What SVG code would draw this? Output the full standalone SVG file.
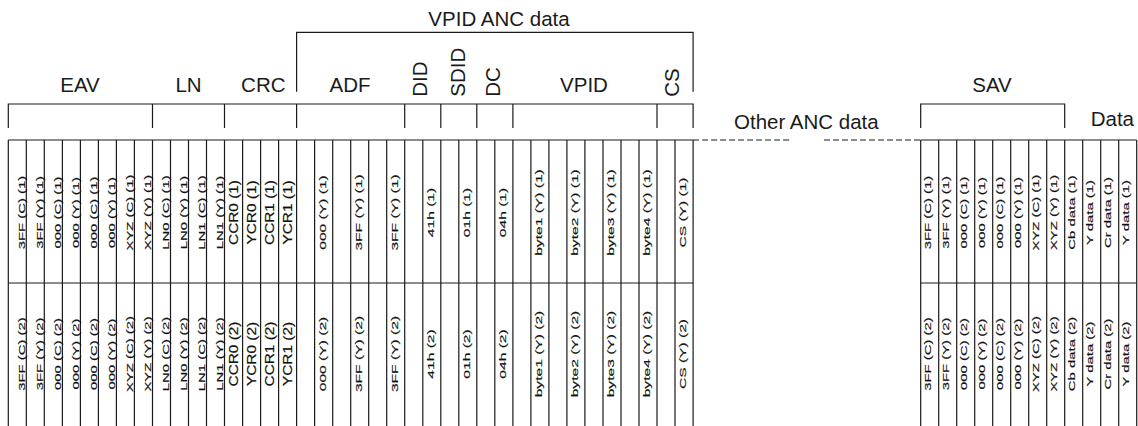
<svg xmlns="http://www.w3.org/2000/svg" width="1138" height="426" viewBox="0 0 1138 426">
<style>
.ln{stroke:#1a1a1a;stroke-width:1.2;fill:none}
.dash{stroke:#1a1a1a;stroke-width:1.2;fill:none;stroke-dasharray:6 3}
.h{font-family:"Liberation Sans",Arial,sans-serif;font-size:20.5px;fill:#1a1a1a}
.e,.a,.k{font-family:"Liberation Sans",Arial,sans-serif;fill:#111;stroke:#111;stroke-width:0.25;text-anchor:middle}
.e{font-size:14.9px}
.a{font-size:15.6px}
.k{font-size:15.4px}
</style>
<rect width="1138" height="426" fill="#ffffff"/>
<g id="connectors">
<path class="ln" d="M296.6 91.7V32.3H693.1V91.7"/>
<path class="ln" d="M8.3 128V104H693.1V128M152.5 104V128M224.5 104V128M296.6 104V128M404.7 104V128M440.8 104V128M476.8 104V128M512.9 104V128M657 104V128"/>
<path class="ln" d="M920.7 128V104H1064.7V128"/>
<path class="ln" d="M8.3 140H693.1M8.3 283H693.1M920.7 140H1136.7M920.7 283H1136.7"/>
<path class="dash" d="M693.1 140H790M824 140H920.7"/>
<path class="ln" d="M8.3 140V426M26.3 140V426M44.3 140V426M62.4 140V426M80.4 140V426M98.4 140V426M116.4 140V426M134.4 140V426M152.5 140V426M170.5 140V426M188.5 140V426M206.5 140V426M224.5 140V426M242.6 140V426M260.6 140V426M278.6 140V426M296.6 140V426M314.6 140V426M332.7 140V426M350.7 140V426M368.7 140V426M386.7 140V426M404.7 140V426M422.8 140V426M440.8 140V426M458.8 140V426M476.8 140V426M494.8 140V426M512.9 140V426M530.9 140V426M548.9 140V426M566.9 140V426M584.9 140V426M603 140V426M621 140V426M639 140V426M657 140V426M675 140V426M693.1 140V426"/>
<path class="ln" d="M920.7 140V426M938.7 140V426M956.7 140V426M974.7 140V426M992.7 140V426M1010.7 140V426M1028.7 140V426M1046.7 140V426M1064.7 140V426M1082.7 140V426M1100.7 140V426M1118.7 140V426M1136.7 140V426"/>
</g>
<g id="headings">
<text class="h" x="499" y="26" text-anchor="middle">VPID ANC data</text>
<text class="h" x="80" y="92.3" text-anchor="middle">EAV</text>
<text class="h" x="188.5" y="92.3" text-anchor="middle">LN</text>
<text class="h" x="263.3" y="92.3" text-anchor="middle">CRC</text>
<text class="h" x="350" y="92.3" text-anchor="middle">ADF</text>
<text class="h" transform="translate(426.5 96.7) rotate(-90)">DID</text>
<text class="h" transform="translate(465 96.7) rotate(-90)">SDID</text>
<text class="h" transform="translate(500 96.7) rotate(-90)">DC</text>
<text class="h" x="584" y="92.3" text-anchor="middle">VPID</text>
<text class="h" transform="translate(679.3 96.7) rotate(-90)">CS</text>
<text class="h" x="992" y="92.3" text-anchor="middle">SAV</text>
<text class="h" x="734" y="128.5">Other ANC data</text>
<text class="h" x="1090.7" y="125.5">Data</text>
</g>
<g id="eav-cells">
<text class="e" transform="translate(24.6 212.5) rotate(-90) scale(1 0.645)">3FF (C) (1)</text>
<text class="e" transform="translate(42.6 212.5) rotate(-90) scale(1 0.645)">3FF (Y) (1)</text>
<text class="e" transform="translate(60.6 212.5) rotate(-90) scale(1 0.645)">000 (C) (1)</text>
<text class="e" transform="translate(78.7 212.5) rotate(-90) scale(1 0.645)">000 (Y) (1)</text>
<text class="e" transform="translate(96.7 212.5) rotate(-90) scale(1 0.645)">000 (C) (1)</text>
<text class="e" transform="translate(114.7 212.5) rotate(-90) scale(1 0.645)">000 (Y) (1)</text>
<text class="e" transform="translate(132.7 212.5) rotate(-90) scale(1 0.645)">XYZ (C) (1)</text>
<text class="e" transform="translate(150.7 212.5) rotate(-90) scale(1 0.645)">XYZ (Y) (1)</text>
<text class="e" transform="translate(24.6 354) rotate(-90) scale(1 0.645)">3FF (C) (2)</text>
<text class="e" transform="translate(42.6 354) rotate(-90) scale(1 0.645)">3FF (Y) (2)</text>
<text class="e" transform="translate(60.6 354) rotate(-90) scale(1 0.645)">000 (C) (2)</text>
<text class="e" transform="translate(78.7 354) rotate(-90) scale(1 0.645)">000 (Y) (2)</text>
<text class="e" transform="translate(96.7 354) rotate(-90) scale(1 0.645)">000 (C) (2)</text>
<text class="e" transform="translate(114.7 354) rotate(-90) scale(1 0.645)">000 (Y) (2)</text>
<text class="e" transform="translate(132.7 354) rotate(-90) scale(1 0.645)">XYZ (C) (2)</text>
<text class="e" transform="translate(150.7 354) rotate(-90) scale(1 0.645)">XYZ (Y) (2)</text>
</g>
<g id="ln-cells">
<text class="e" transform="translate(168.8 212.5) rotate(-90) scale(1 0.645)">LN0 (C) (1)</text>
<text class="e" transform="translate(186.8 212.5) rotate(-90) scale(1 0.645)">LN0 (Y) (1)</text>
<text class="e" transform="translate(204.8 212.5) rotate(-90) scale(1 0.645)">LN1 (C) (1)</text>
<text class="e" transform="translate(222.8 212.5) rotate(-90) scale(1 0.645)">LN1 (Y) (1)</text>
<text class="e" transform="translate(168.8 354) rotate(-90) scale(1 0.645)">LN0 (C) (2)</text>
<text class="e" transform="translate(186.8 354) rotate(-90) scale(1 0.645)">LN0 (Y) (2)</text>
<text class="e" transform="translate(204.8 354) rotate(-90) scale(1 0.645)">LN1 (C) (2)</text>
<text class="e" transform="translate(222.8 354) rotate(-90) scale(1 0.645)">LN1 (Y) (2)</text>
</g>
<g id="crc-cells">
<text class="k" transform="translate(238 212.5) rotate(-90) scale(1 0.78)">CCR0 (1)</text>
<text class="k" transform="translate(256.1 212.5) rotate(-90) scale(1 0.78)">YCR0 (1)</text>
<text class="k" transform="translate(274.1 212.5) rotate(-90) scale(1 0.78)">CCR1 (1)</text>
<text class="k" transform="translate(292.1 212.5) rotate(-90) scale(1 0.78)">YCR1 (1)</text>
<text class="k" transform="translate(238 354) rotate(-90) scale(1 0.78)">CCR0 (2)</text>
<text class="k" transform="translate(256.1 354) rotate(-90) scale(1 0.78)">YCR0 (2)</text>
<text class="k" transform="translate(274.1 354) rotate(-90) scale(1 0.78)">CCR1 (2)</text>
<text class="k" transform="translate(292.1 354) rotate(-90) scale(1 0.78)">YCR1 (2)</text>
</g>
<g id="vpid-anc-cells">
<text class="a" transform="translate(326 212.5) rotate(-90) scale(1 0.64)">000 (Y) (1)</text>
<text class="a" transform="translate(362.1 212.5) rotate(-90) scale(1 0.64)">3FF (Y) (1)</text>
<text class="a" transform="translate(398.1 212.5) rotate(-90) scale(1 0.64)">3FF (Y) (1)</text>
<text class="a" transform="translate(434.2 212.5) rotate(-90) scale(1 0.64)">41h (1)</text>
<text class="a" transform="translate(470.2 212.5) rotate(-90) scale(1 0.64)">01h (1)</text>
<text class="a" transform="translate(506.2 212.5) rotate(-90) scale(1 0.64)">04h (1)</text>
<text class="a" transform="translate(542.3 212.5) rotate(-90) scale(1 0.64)">byte1 (Y) (1)</text>
<text class="a" transform="translate(578.3 212.5) rotate(-90) scale(1 0.64)">byte2 (Y) (1)</text>
<text class="a" transform="translate(614.4 212.5) rotate(-90) scale(1 0.64)">byte3 (Y) (1)</text>
<text class="a" transform="translate(650.4 212.5) rotate(-90) scale(1 0.64)">byte4 (Y) (1)</text>
<text class="a" transform="translate(686.4 212.5) rotate(-90) scale(1 0.64)">CS (Y) (1)</text>
<text class="a" transform="translate(326 354) rotate(-90) scale(1 0.64)">000 (Y) (2)</text>
<text class="a" transform="translate(362.1 354) rotate(-90) scale(1 0.64)">3FF (Y) (2)</text>
<text class="a" transform="translate(398.1 354) rotate(-90) scale(1 0.64)">3FF (Y) (2)</text>
<text class="a" transform="translate(434.2 354) rotate(-90) scale(1 0.64)">41h (2)</text>
<text class="a" transform="translate(470.2 354) rotate(-90) scale(1 0.64)">01h (2)</text>
<text class="a" transform="translate(506.2 354) rotate(-90) scale(1 0.64)">04h (2)</text>
<text class="a" transform="translate(542.3 354) rotate(-90) scale(1 0.64)">byte1 (Y) (2)</text>
<text class="a" transform="translate(578.3 354) rotate(-90) scale(1 0.64)">byte2 (Y) (2)</text>
<text class="a" transform="translate(614.4 354) rotate(-90) scale(1 0.64)">byte3 (Y) (2)</text>
<text class="a" transform="translate(650.4 354) rotate(-90) scale(1 0.64)">byte4 (Y) (2)</text>
<text class="a" transform="translate(686.4 354) rotate(-90) scale(1 0.64)">CS (Y) (2)</text>
</g>
<g id="sav-cells">
<text class="e" transform="translate(930.5 212.5) rotate(-90) scale(1 0.645)">3FF (C) (1)</text>
<text class="e" transform="translate(948.5 212.5) rotate(-90) scale(1 0.645)">3FF (Y) (1)</text>
<text class="e" transform="translate(966.5 212.5) rotate(-90) scale(1 0.645)">000 (C) (1)</text>
<text class="e" transform="translate(984.5 212.5) rotate(-90) scale(1 0.645)">000 (Y) (1)</text>
<text class="e" transform="translate(1002.5 212.5) rotate(-90) scale(1 0.645)">000 (C) (1)</text>
<text class="e" transform="translate(1020.5 212.5) rotate(-90) scale(1 0.645)">000 (Y) (1)</text>
<text class="e" transform="translate(1038.5 212.5) rotate(-90) scale(1 0.645)">XYZ (C) (1)</text>
<text class="e" transform="translate(1056.5 212.5) rotate(-90) scale(1 0.645)">XYZ (Y) (1)</text>
<text class="e" transform="translate(930.5 354) rotate(-90) scale(1 0.645)">3FF (C) (2)</text>
<text class="e" transform="translate(948.5 354) rotate(-90) scale(1 0.645)">3FF (Y) (2)</text>
<text class="e" transform="translate(966.5 354) rotate(-90) scale(1 0.645)">000 (C) (2)</text>
<text class="e" transform="translate(984.5 354) rotate(-90) scale(1 0.645)">000 (Y) (2)</text>
<text class="e" transform="translate(1002.5 354) rotate(-90) scale(1 0.645)">000 (C) (2)</text>
<text class="e" transform="translate(1020.5 354) rotate(-90) scale(1 0.645)">000 (Y) (2)</text>
<text class="e" transform="translate(1038.5 354) rotate(-90) scale(1 0.645)">XYZ (C) (2)</text>
<text class="e" transform="translate(1056.5 354) rotate(-90) scale(1 0.645)">XYZ (Y) (2)</text>
</g>
<g id="data-cells">
<text class="e" transform="translate(1074.5 212.5) rotate(-90) scale(1 0.645)">Cb data (1)</text>
<text class="e" transform="translate(1092.5 212.5) rotate(-90) scale(1 0.645)">Y data (1)</text>
<text class="e" transform="translate(1110.5 212.5) rotate(-90) scale(1 0.645)">Cr data (1)</text>
<text class="e" transform="translate(1128.5 212.5) rotate(-90) scale(1 0.645)">Y data (1)</text>
<text class="e" transform="translate(1074.5 354) rotate(-90) scale(1 0.645)">Cb data (2)</text>
<text class="e" transform="translate(1092.5 354) rotate(-90) scale(1 0.645)">Y data (2)</text>
<text class="e" transform="translate(1110.5 354) rotate(-90) scale(1 0.645)">Cr data (2)</text>
<text class="e" transform="translate(1128.5 354) rotate(-90) scale(1 0.645)">Y data (2)</text>
</g>
</svg>
